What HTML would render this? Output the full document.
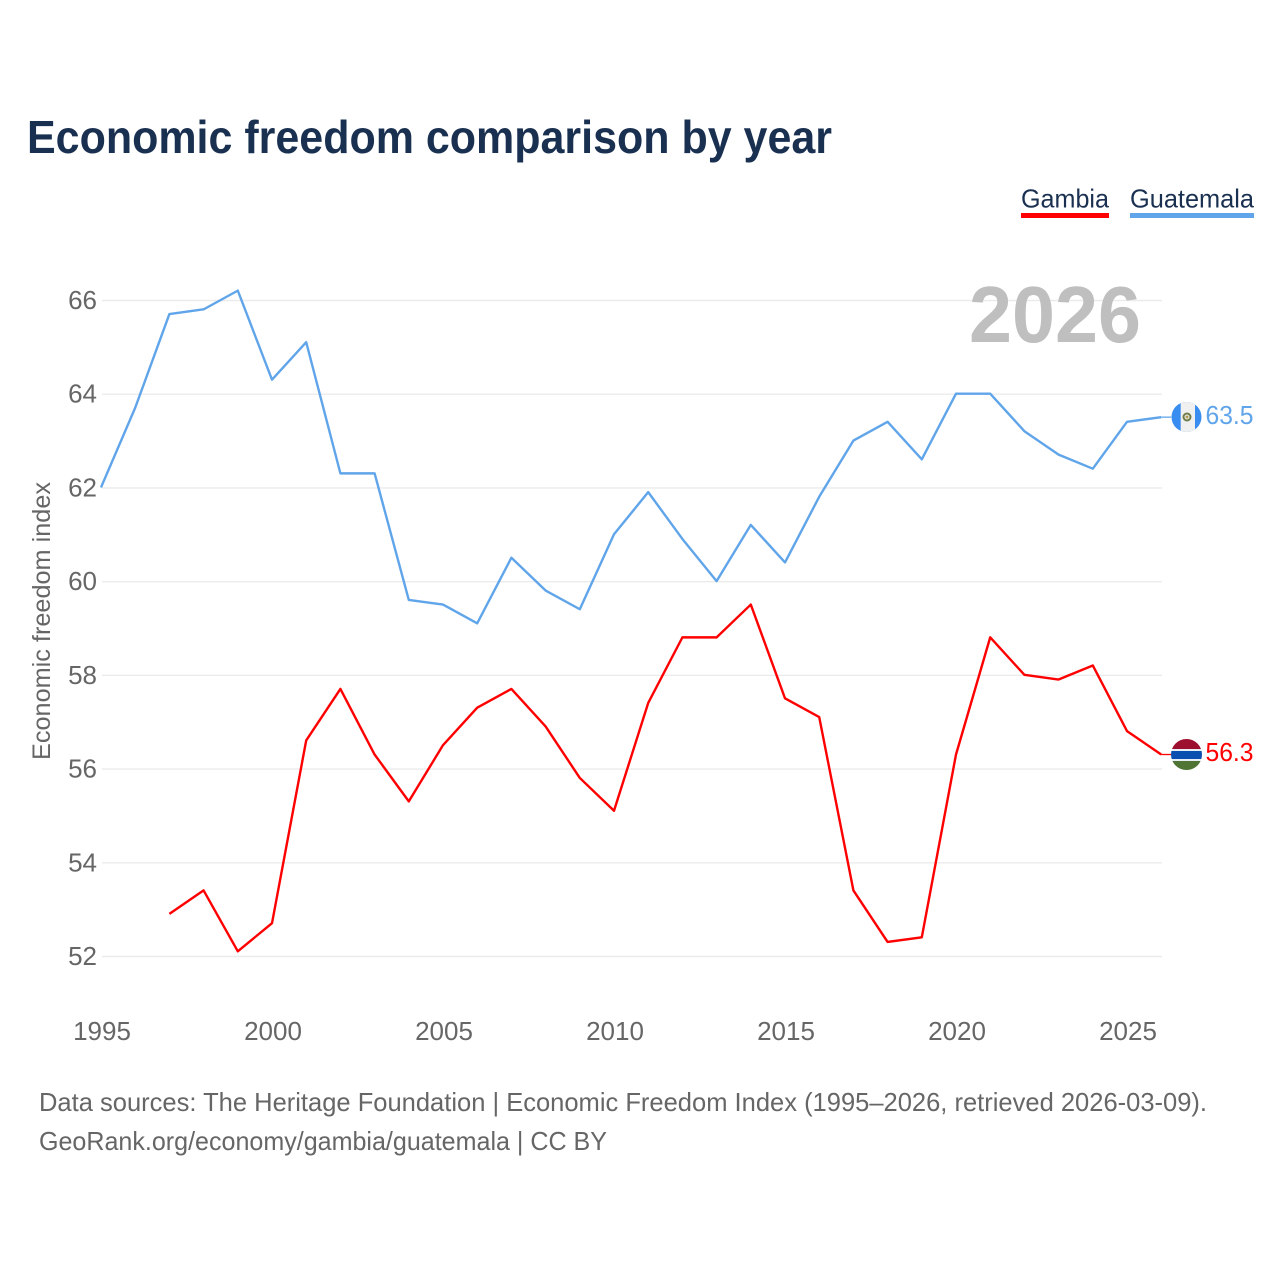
<!DOCTYPE html>
<html lang="en">
<head>
<meta charset="utf-8">
<title>Economic freedom comparison by year</title>
<style>
html,body{margin:0;padding:0;background:#fff;}
svg{display:block;font-family:"Liberation Sans",sans-serif;}
</style>
</head>
<body>
<svg id="chart" width="1280" height="1280" viewBox="0 0 1280 1280" xmlns="http://www.w3.org/2000/svg">
  <defs>
    <clipPath id="clip-gt"><circle cx="1186.5" cy="417" r="15"></circle></clipPath>
    <clipPath id="clip-gm"><circle cx="1186.5" cy="754.5" r="15.5"></circle></clipPath>
  </defs>
  <rect x="0" y="0" width="1280" height="1280" fill="#fff"></rect>
  <text x="27" y="153" font-size="46" font-weight="700" fill="#1a3050" textLength="805" lengthAdjust="spacingAndGlyphs">Economic freedom comparison by year</text>

  <g>
    <text x="1021" y="207.5" font-size="26" fill="#1a3050" textLength="88" lengthAdjust="spacingAndGlyphs">Gambia</text>
    <rect x="1021" y="213" width="88" height="5" fill="#ff0000"></rect>
    <text x="1130" y="207.5" font-size="26" fill="#1a3050" textLength="124" lengthAdjust="spacingAndGlyphs">Guatemala</text>
    <rect x="1130" y="213" width="124" height="5" fill="#60a5ea"></rect>
  </g>

  <g id="grid"></g>
  <g id="y-axis"></g>
  <g id="x-axis"></g>

  <text x="969" y="342" font-size="80" font-weight="700" fill="#bfbfbf" textLength="172" lengthAdjust="spacingAndGlyphs">2026</text>

  <text transform="translate(50 760) rotate(-90)" font-size="25" fill="#666" textLength="278" lengthAdjust="spacingAndGlyphs">Economic freedom index</text>

  <g id="series"></g>

  <g clip-path="url(#clip-gt)">
    <rect x="1171" y="402" width="31" height="30" fill="#3a8df0"></rect>
    <rect x="1180.7" y="402" width="14.3" height="30" fill="#f0f0f0"></rect>
    <circle cx="1187" cy="417" r="3.5" fill="none" stroke="#6f7d4a" stroke-width="2"></circle>
    <circle cx="1187" cy="417" r="1.5" fill="#b39b55"></circle>
  </g>
  <g clip-path="url(#clip-gm)">
    <rect x="1171" y="739" width="31" height="10" fill="#9c0f2e"></rect>
    <rect x="1171" y="749" width="31" height="2" fill="#e8eef6"></rect>
    <rect x="1171" y="751" width="31" height="8" fill="#0a4fb0"></rect>
    <rect x="1171" y="759" width="31" height="2" fill="#e8eef6"></rect>
    <rect x="1171" y="761" width="31" height="9" fill="#4f7433"></rect>
  </g>

  <text id="label-guatemala" x="1205.5" y="424" font-size="26" fill="#60a5ea" textLength="48" lengthAdjust="spacingAndGlyphs"></text>
  <text id="label-gambia" x="1205.5" y="761" font-size="26" fill="#ff0000" textLength="48" lengthAdjust="spacingAndGlyphs"></text>

  <g>
    <text x="39" y="1111" font-size="26" fill="#666" textLength="1168" lengthAdjust="spacingAndGlyphs">Data sources: The Heritage Foundation | Economic Freedom Index (1995–2026, retrieved 2026-03-09).</text>
    <text x="39" y="1150" font-size="26" fill="#666" textLength="568" lengthAdjust="spacingAndGlyphs">GeoRank.org/economy/gambia/guatemala | CC BY</text>
  </g>
</svg>
<script>
const yTicks = [52, 54, 56, 58, 60, 62, 64, 66];
const xTicks = [1995, 2000, 2005, 2010, 2015, 2020, 2025];
const guatemalaYears = [1995,1996,1997,1998,1999,2000,2001,2002,2003,2004,2005,2006,2007,2008,2009,2010,2011,2012,2013,2014,2015,2016,2017,2018,2019,2020,2021,2022,2023,2024,2025,2026];
const guatemalaValues = [62.0,63.7,65.7,65.8,66.2,64.3,65.1,62.3,62.3,59.6,59.5,59.1,60.5,59.8,59.4,61.0,61.9,60.9,60.0,61.2,60.4,61.8,63.0,63.4,62.6,64.0,64.0,63.2,62.7,62.4,63.4,63.5];
const gambiaYears = [1997,1998,1999,2000,2001,2002,2003,2004,2005,2006,2007,2008,2009,2010,2011,2012,2013,2014,2015,2016,2017,2018,2019,2020,2021,2022,2023,2024,2025,2026];
const gambiaValues = [52.9,53.4,52.1,52.7,56.6,57.7,56.3,55.3,56.5,57.3,57.7,56.9,55.8,55.1,57.4,58.8,58.8,59.5,57.5,57.1,53.4,52.3,52.4,56.3,58.8,58.0,57.9,58.2,56.8,56.3];

const NS = 'http://www.w3.org/2000/svg';
function xScale(year) { return 101 + (year - 1995) * 34.2; }
function yScale(value) { return 956 - (value - 52) * 46.857; }
function make(tag, parent, attrs) {
  const el = document.createElementNS(NS, tag);
  for (const k in attrs) el.setAttribute(k, attrs[k]);
  parent.appendChild(el);
  return el;
}

const gridG = document.getElementById('grid');
const yG = document.getElementById('y-axis');
yTicks.forEach(function (t) {
  const line = make('line', gridG, { x1: 102, x2: 1162, y1: yScale(t) + 0.5, y2: yScale(t) + 0.5, stroke: '#ebebeb', 'stroke-width': 1.4 });
  
  
  const label = make('text', yG, { x: 97, y: yScale(t) + 9, 'font-size': 26, fill: '#666', 'text-anchor': 'end' });
  
  
  label.textContent = t;
});

const xG = document.getElementById('x-axis');
xTicks.forEach(function (t) {
  const label = make('text', xG, { x: xScale(t) + 1, y: 1040, 'font-size': 26, fill: '#666', 'text-anchor': 'middle' });
  
  
  label.textContent = t;
});

function drawSeries(years, values, color, name) {
  const g = document.getElementById('series');
  const pts = years.map(function (y, i) { return xScale(y).toFixed(2) + ',' + yScale(values[i]).toFixed(2); });
  const lastX = xScale(years[years.length - 1]);
  const lastY = yScale(values[values.length - 1]);
  const line = make('polyline', g, { points: pts.join(' '), fill: 'none', stroke: color, 'stroke-width': 2.4, 'stroke-linejoin': 'round' });
  
  
  const stub = make('line', g, { x1: lastX, x2: lastX + 10, y1: lastY, y2: lastY, stroke: color, 'stroke-width': 1.3 });
  
  
}
drawSeries(guatemalaYears, guatemalaValues, '#60a5ea', 'line-guatemala');
drawSeries(gambiaYears, gambiaValues, '#ff0000', 'line-gambia');

document.getElementById('label-guatemala').textContent = guatemalaValues[guatemalaValues.length - 1].toFixed(1);
document.getElementById('label-gambia').textContent = gambiaValues[gambiaValues.length - 1].toFixed(1);
</script>
</body>
</html>
